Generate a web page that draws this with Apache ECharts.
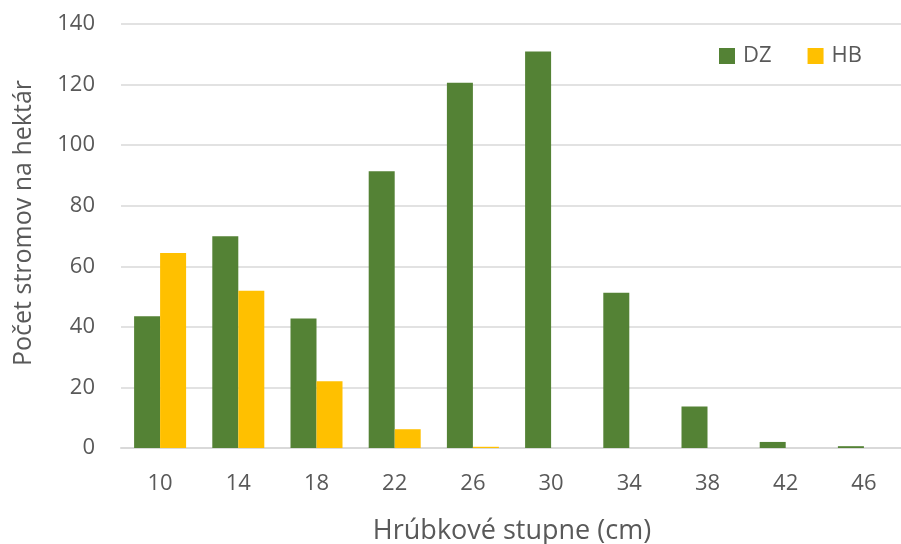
<!DOCTYPE html>
<html>
<head>
<meta charset="utf-8">
<script src="https://cdn.jsdelivr.net/npm/echarts@6/dist/echarts.min.js"></script>
<style>
  html, body { margin: 0; padding: 0; background: #ffffff; }
  #chart { width: 901px; height: 544px; }
</style>
</head>
<body>
<div id="chart"></div>
<script>
// Diameter classes (cm)
const categories = ['10', '14', '18', '22', '26', '30', '34', '38', '42', '46'];
// Trees per hectare by diameter class
const dzValues = [43.5, 69.9, 42.8, 91.4, 120.6, 130.9, 51.3, 13.7, 2.0, 0.6];
const hbValues = [64.4, 51.9, 22.0, 6.2, 0.4, 0, 0, 0, 0, 0];
const seriesNames = ['DZ', 'HB'];

const FONT = '"Open Sans", "Noto Sans", sans-serif';
const TEXT = '#595959';
const GRID = '#d9d9d9';

const chart = echarts.init(document.getElementById('chart'), null, { renderer: 'canvas' });

chart.setOption({
  animation: false,
  backgroundColor: '#ffffff',
  textStyle: { fontFamily: FONT },
  grid: { left: 121, top: 24, width: 782, height: 424, outerBoundsMode: 'none', containLabel: false },
  legend: {
    data: seriesNames,
    top: 40,
    left: 714,
    itemWidth: 16,
    itemHeight: 16,
    itemGap: 36,
    icon: 'rect',
    textStyle: { fontFamily: FONT, fontSize: 22, color: TEXT, padding: [0, 0, 0, 3] }
  },
  xAxis: {
    type: 'category',
    data: categories,
    name: 'Hrúbkové stupne (cm)',
    nameLocation: 'middle',
    nameGap: 70,
    nameTextStyle: { fontFamily: FONT, fontSize: 27, color: TEXT },
    axisLine: { show: true, lineStyle: { color: GRID, width: 2 } },
    axisTick: { show: false },
    axisLabel: { fontFamily: FONT, fontSize: 22, color: TEXT, margin: 25 }
  },
  yAxis: {
    type: 'value',
    min: 0,
    max: 140,
    interval: 20,
    name: 'Počet stromov na hektár',
    nameLocation: 'middle',
    nameGap: 85,
    nameTextStyle: { fontFamily: FONT, fontSize: 25, color: TEXT, padding: [0, 0, 0, 26] },
    axisLine: { show: false },
    axisTick: { show: false },
    axisLabel: { fontFamily: FONT, fontSize: 22, color: TEXT, margin: 26 },
    splitLine: { lineStyle: { color: GRID, width: 1.5 } }
  },
  series: [
    {
      name: seriesNames[0],
      type: 'bar',
      data: dzValues,
      barWidth: 26,
      barGap: '0%',
      itemStyle: { color: '#548235' }
    },
    {
      name: seriesNames[1],
      type: 'bar',
      data: hbValues,
      barWidth: 26,
      barGap: '0%',
      itemStyle: { color: '#ffc000' }
    }
  ]
});
</script>
</body>
</html>
